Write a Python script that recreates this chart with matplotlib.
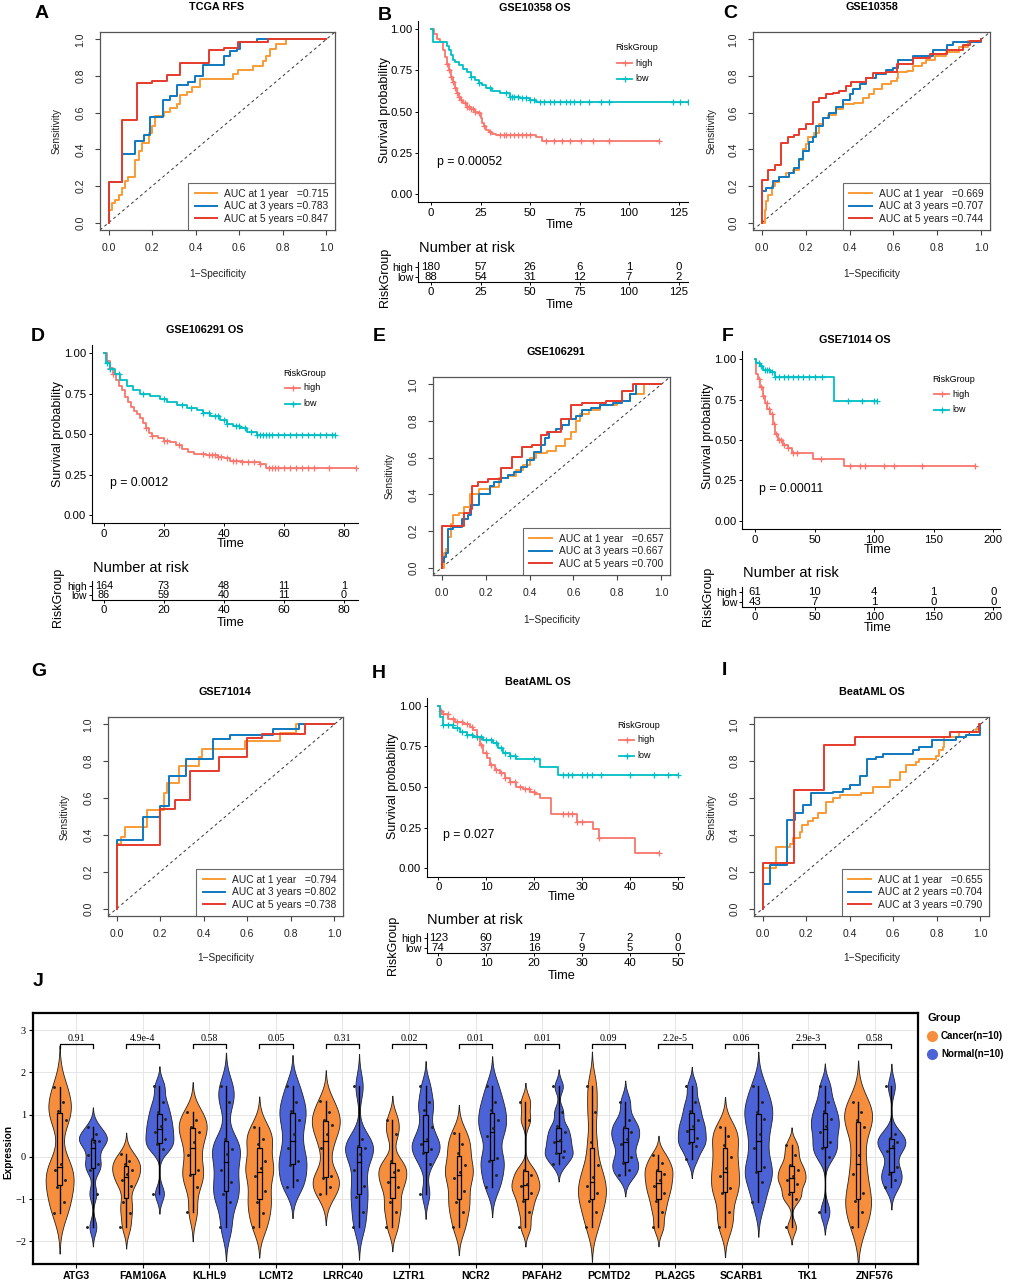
import numpy as np
import matplotlib
matplotlib.use("Agg")
import matplotlib.pyplot as plt
from matplotlib.lines import Line2D
from matplotlib.patches import Rectangle

SANS = ['Liberation Sans', 'DejaVu Sans']
SERIF = ['Liberation Serif', 'DejaVu Serif']
plt.rcParams['font.family'] = SANS

# ---------------- DATA ----------------
roc_colors = ['#F99B35', '#0F78BF', '#E63A2C']

# A: TCGA RFS
a_1y_fpr = [0,0,0.015,0.03,0.046,0.061,0.076,0.09,0.122,0.137,0.153,0.183,0.2,0.214,0.252,0.282,0.313,0.328,0.359,0.382,0.42,0.573,0.595,0.664,0.71,0.725,0.74,0.771,0.817,1.0]
a_1y_tpr = [0,0.07,0.105,0.125,0.15,0.19,0.225,0.25,0.34,0.39,0.435,0.49,0.525,0.58,0.605,0.625,0.65,0.695,0.715,0.74,0.785,0.81,0.835,0.855,0.88,0.91,0.945,0.975,1.0,1.0]
a_3y_fpr = [0,0,0.061,0.122,0.16,0.188,0.25,0.282,0.313,0.366,0.397,0.435,0.53,0.557,0.588,0.603,0.682,1.0]
a_3y_tpr = [0,0.22,0.375,0.445,0.48,0.575,0.67,0.69,0.75,0.765,0.80,0.86,0.91,0.935,0.95,0.985,1.0,1.0]
a_5y_fpr = [0,0,0.061,0.13,0.198,0.267,0.328,0.463,0.53,0.595,0.73,1.0]
a_5y_tpr = [0,0.22,0.56,0.76,0.775,0.805,0.87,0.94,0.955,0.985,1.0,1.0]
a_labels = ['AUC at 1 year   =0.715', 'AUC at 3 years =0.783', 'AUC at 5 years =0.847']

# C: GSE10358
c_1y_fpr = [0,0.015,0.02,0.03,0.046,0.06,0.08,0.11,0.14,0.17,0.19,0.2,0.21,0.24,0.26,0.28,0.3,0.34,0.37,0.42,0.46,0.49,0.51,0.55,0.59,0.615,0.62,0.66,0.69,0.73,0.75,0.79,0.84,0.9,0.94,1.0]
c_1y_tpr = [0,0.07,0.12,0.15,0.2,0.22,0.25,0.27,0.29,0.34,0.4,0.43,0.47,0.49,0.54,0.57,0.59,0.62,0.645,0.655,0.68,0.70,0.73,0.755,0.775,0.79,0.82,0.83,0.855,0.87,0.89,0.91,0.93,0.96,0.99,1.0]
c_3y_fpr = [0,0,0.018,0.049,0.08,0.125,0.148,0.171,0.19,0.217,0.232,0.247,0.278,0.308,0.339,0.37,0.40,0.415,0.446,0.476,0.522,0.568,0.598,0.62,0.69,0.782,0.843,0.873,1.0]
c_3y_tpr = [0,0.175,0.19,0.23,0.25,0.27,0.30,0.35,0.39,0.44,0.47,0.53,0.57,0.60,0.63,0.67,0.70,0.73,0.755,0.79,0.81,0.835,0.845,0.89,0.91,0.94,0.97,0.985,1.0]
c_5y_fpr = [0,0,0.03,0.061,0.087,0.118,0.148,0.171,0.2,0.232,0.263,0.293,0.324,0.354,0.385,0.408,0.476,0.507,0.568,0.614,0.69,0.766,0.843,0.919,0.95,1.0]
c_5y_tpr = [0,0.235,0.29,0.315,0.435,0.47,0.48,0.51,0.54,0.66,0.68,0.70,0.71,0.72,0.745,0.77,0.79,0.815,0.82,0.865,0.90,0.92,0.94,0.97,0.99,1.0]
c_labels = ['AUC at 1 year   =0.669', 'AUC at 3 years =0.707', 'AUC at 5 years =0.744']

# E: GSE106291
e_1y_fpr = [0,0.01,0.02,0.03,0.04,0.05,0.08,0.1,0.13,0.17,0.22,0.26,0.3,0.34,0.37,0.4,0.43,0.48,0.52,0.56,0.59,0.61,0.63,0.67,0.72,0.8,0.86,0.92,1.0]
e_1y_tpr = [0,0.08,0.1,0.17,0.24,0.285,0.3,0.33,0.4,0.43,0.44,0.49,0.5,0.535,0.56,0.6,0.625,0.635,0.665,0.7,0.74,0.8,0.84,0.86,0.885,0.91,0.95,1.0,1.0]
e_3y_fpr = [0,0,0.01,0.02,0.03,0.05,0.09,0.12,0.135,0.17,0.22,0.24,0.27,0.3,0.33,0.36,0.39,0.42,0.45,0.47,0.49,0.52,0.55,0.58,0.61,0.64,0.68,0.72,0.78,0.82,0.86,0.885,1.0]
e_3y_tpr = [0,0.03,0.06,0.08,0.21,0.22,0.265,0.29,0.34,0.40,0.445,0.47,0.49,0.505,0.52,0.55,0.585,0.63,0.67,0.705,0.74,0.755,0.78,0.81,0.825,0.86,0.87,0.89,0.90,0.91,0.945,1.0,1.0]
e_5y_fpr = [0,0,0.1,0.13,0.137,0.165,0.21,0.27,0.32,0.365,0.41,0.45,0.48,0.545,0.59,0.64,0.75,0.82,0.87,1.0]
e_5y_tpr = [0,0.23,0.30,0.32,0.445,0.47,0.485,0.545,0.605,0.66,0.67,0.725,0.74,0.81,0.885,0.90,0.91,0.965,1.0,1.0]
e_labels = ['AUC at 1 year   =0.657', 'AUC at 3 years =0.667', 'AUC at 5 years =0.700']

# G: GSE71014
g_1y_fpr = [0,0,0.018,0.037,0.14,0.217,0.232,0.285,0.377,0.392,0.59,0.751,0.823,1.0]
g_1y_tpr = [0,0.35,0.39,0.445,0.535,0.63,0.68,0.775,0.825,0.865,0.91,0.955,1.0,1.0]
g_3y_fpr = [0,0,0.122,0.2,0.24,0.32,0.443,0.522,0.72,0.84,1.0]
g_3y_tpr = [0,0.37,0.5,0.555,0.72,0.81,0.92,0.945,0.975,1.0,1.0]
g_5y_fpr = [0,0,0.2,0.27,0.336,0.47,0.6,0.667,0.866,1.0]
g_5y_tpr = [0,0.345,0.54,0.59,0.745,0.825,0.925,0.95,1.0,1.0]
g_labels = ['AUC at 1 year   =0.794', 'AUC at 3 years =0.802', 'AUC at 5 years =0.738']

# I: BeatAML OS
i_1y_fpr = [0,0,0.061,0.125,0.14,0.171,0.179,0.21,0.232,0.255,0.293,0.324,0.354,0.453,0.507,0.583,0.63,0.66,0.705,0.72,0.797,0.812,0.828,0.835,0.904,0.98,0.995,1.0]
i_1y_tpr = [0,0.22,0.335,0.35,0.385,0.415,0.455,0.475,0.49,0.52,0.58,0.6,0.615,0.63,0.66,0.7,0.74,0.78,0.795,0.81,0.83,0.86,0.875,0.93,0.96,0.975,1.0,1.0]
i_2y_fpr = [0,0,0.034,0.11,0.148,0.183,0.221,0.324,0.37,0.4,0.446,0.481,0.522,0.553,0.69,0.72,0.777,0.889,0.934,1.0,1.0]
i_2y_tpr = [0,0.135,0.235,0.48,0.52,0.56,0.625,0.635,0.65,0.67,0.72,0.81,0.825,0.84,0.86,0.875,0.915,0.93,0.945,0.955,1.0]
i_3y_fpr = [0,0,0.143,0.282,0.426,0.86,0.995,1.0]
i_3y_tpr = [0,0.245,0.645,0.89,0.93,0.96,1.0,1.0]
i_labels = ['AUC at 1 year   =0.655', 'AUC at 2 years =0.704', 'AUC at 3 years =0.790']

# Kaplan-Meier curves
km_colors = {'high': '#F8766D', 'low': '#00BFC4'}

b_high_t = [0,1.5,3,4.5,6,7,8,9,10,11,12,13,14,15,16,18,20,22,23.5,25,26,27,28,29.5,31,33,53,56,115]
b_high_s = [1,0.97,0.94,0.92,0.87,0.83,0.79,0.75,0.71,0.68,0.64,0.61,0.59,0.57,0.55,0.53,0.515,0.50,0.49,0.46,0.43,0.41,0.39,0.375,0.365,0.355,0.345,0.323,0.323]
b_high_cens = [8,9,10,11,12,13,14,15,17,18,19,20,21,22,24,27,30,35,37,38,40,42,44,46,48,50,58,62,66,70,76,82,90,115]
b_low_t = [0,1,8,9,10,11,12,14,16,18,20,22,24,26,28,31,35,40,45,50,53,55,130]
b_low_s = [1,0.92,0.90,0.87,0.84,0.81,0.80,0.78,0.76,0.74,0.71,0.69,0.67,0.66,0.645,0.625,0.61,0.59,0.58,0.57,0.56,0.555,0.555]
b_low_cens = [20,24,30,38,40,41,42,44,46,48,50,52,55,57,60,62,65,68,70,72,75,80,86,90,122,126,130]
b_risk_times = [0,25,50,75,100,125]
b_risk_high = [180,57,26,6,1,0]
b_risk_low = [88,54,31,12,7,2]

d_high_t = [0,1,2,3,4,5,6,7,8,9,10,11,12,13,14,15,16,18,20,22,24,26,28,30,34,38,40,42,46,52,54,84]
d_high_s = [1,0.95,0.91,0.87,0.835,0.80,0.77,0.73,0.70,0.67,0.645,0.625,0.60,0.57,0.54,0.51,0.49,0.475,0.46,0.45,0.435,0.41,0.39,0.375,0.37,0.36,0.35,0.335,0.325,0.315,0.29,0.29]
d_high_cens = [2,3,14,16,20,21,25,33,35,36,37,38,39,41,43,44,46,48,50,52,55,56,57,58,60,62,64,66,68,70,75,84]
d_low_t = [0,0.7,2,3.7,5.3,7.6,9.8,12,15.3,18.7,20.9,24.2,27.6,30.9,33,35.3,38.7,40.9,43,45.3,47.6,50.9,77]
d_low_s = [1,0.94,0.90,0.87,0.835,0.80,0.77,0.75,0.735,0.72,0.70,0.68,0.66,0.65,0.63,0.61,0.59,0.56,0.55,0.535,0.515,0.495,0.495]
d_low_cens = [1,2,5,13,20,26,29,33,35,37,38,40,41,44,45,47,49,51,52,53,54,55,56,58,60,62,64,66,68,70,72,74,76,77]
d_risk_times = [0,20,40,60,80]
d_risk_high = [164,73,48,11,1]
d_risk_low = [86,59,40,11,0]

f_high_t = [0,0.8,2.8,4.2,6.4,8.4,10.3,12.6,14.8,16.8,19.6,23.8,28,30.8,49,75,185]
f_high_s = [1,0.91,0.88,0.83,0.77,0.73,0.69,0.66,0.60,0.54,0.50,0.47,0.45,0.42,0.38,0.342,0.342]
f_high_cens = [3,5,7,10,12,14,16,18,20,22,24,28,32,35,55,80,88,92,108,117,140,185]
f_low_t = [0,0.8,4,7,12.6,17,66,102]
f_low_s = [1,0.975,0.955,0.93,0.92,0.89,0.742,0.742]
f_low_cens = [3,5,8,10,12,14,17,20,24,28,32,36,40,45,50,56,78,90,100,102]
f_risk_times = [0,50,100,150,200]
f_risk_high = [61,10,4,1,0]
f_risk_low = [43,7,1,0,0]

h_high_t = [0,0.35,1,2.1,3.5,5.2,6.6,7.3,8,8.7,9.4,10.1,10.8,11.8,12.9,13.9,15,16.3,17.7,19.1,20.2,21.2,23.5,29,32.3,33.5,41,46]
h_high_s = [1,0.97,0.95,0.92,0.90,0.89,0.87,0.85,0.81,0.76,0.71,0.68,0.635,0.605,0.585,0.555,0.53,0.50,0.49,0.47,0.46,0.43,0.334,0.287,0.24,0.184,0.096,0.096]
h_high_cens = [0.5,1,2,3,4,5,6,7,8,9,10,11,12,13,14,15,16,17,18,19,20,26,27,28,29,30,33.5,46]
h_low_t = [0,0.35,1,3.1,4.5,5.9,7.3,9.4,11.5,12.5,13.6,15,16.3,21.2,25,50]
h_low_s = [1,0.93,0.88,0.86,0.84,0.82,0.81,0.79,0.77,0.74,0.71,0.69,0.675,0.625,0.576,0.576]
h_low_cens = [1,2,3,4,5,6,7,8,9,10,11,12,13,14,15,16,20,26,27,28,30,31,32,34,40,45,48,50]
h_risk_times = [0,10,20,30,40,50]
h_risk_high = [123,60,19,7,2,0]
h_risk_low = [74,37,16,9,5,0]

# J: violin expression data
genes = ['ATG3','FAM106A','KLHL9','LCMT2','LRRC40','LZTR1','NCR2','PAFAH2','PCMTD2','PLA2G5','SCARB1','TK1','ZNF576']
pvals = ['0.91','4.9e-4','0.58','0.05','0.31','0.02','0.01','0.01','0.09','2.2e-5','0.06','2.9e-3','0.58']
cancer_expr = [
    [-1.32,-1.07,-0.72,-0.55,-0.3,-0.18,0.88,1.08,1.31,1.66],
    [-1.66,-1.32,-1.07,-0.68,-0.55,-0.4,-0.3,-0.18,-0.1,0.06],
    [-1.3,-0.72,-0.43,-0.3,0.05,0.35,0.6,0.7,0.88,1.07],
    [-1.67,-1.32,-1.07,-0.8,-0.45,-0.27,-0.1,0.3,0.43,0.71],
    [-0.88,-0.72,-0.5,-0.45,0.2,0.55,0.75,0.87,1.07,1.32],
    [-1.67,-1.3,-1.07,-0.72,-0.6,-0.35,-0.3,-0.1,0.55,0.88],
    [-1.67,-1.3,-1.07,-0.8,-0.5,-0.35,-0.2,0.1,0.3,0.57],
    [-1.67,-1.3,-1.05,-0.85,-0.7,-0.64,-0.43,-0.3,0.88,1.3],
    [-1.66,-1.3,-1.05,-0.85,-0.7,-0.48,-0.2,0.35,1.07,1.67],
    [-1.66,-1.3,-1.05,-0.85,-0.7,-0.56,-0.4,-0.3,-0.15,0.04],
    [-1.67,-1.3,-0.85,-0.75,-0.45,-0.27,0.0,0.28,0.5,0.71],
    [-1.67,-1.0,-0.88,-0.65,-0.55,-0.45,-0.3,-0.2,0.05,0.29],
    [-1.67,-1.3,-1.05,-0.85,-0.4,0.04,0.7,0.88,1.07,1.3],
]
normal_expr = [
    [-1.66,-0.87,-0.3,-0.18,0.05,0.35,0.38,0.42,0.55,0.71],
    [-0.87,0.18,0.3,0.42,0.6,0.72,0.9,1.07,1.3,1.67],
    [-1.67,-1.07,-0.87,-0.6,-0.3,0.06,0.18,0.43,1.3,1.67],
    [-0.71,-0.55,-0.2,-0.1,0.2,0.55,0.88,1.08,1.3,1.67],
    [-1.67,-1.3,-0.95,-0.7,-0.3,0.06,0.2,0.25,0.43,1.67],
    [-0.87,-0.18,0.1,0.18,0.3,0.43,0.7,1.1,1.3,1.67],
    [-0.71,-0.43,-0.1,-0.02,0.5,0.68,0.88,1.1,1.3,1.67],
    [-0.18,0.0,0.08,0.15,0.35,0.41,0.6,0.72,1.07,1.67],
    [-0.43,-0.3,-0.15,0.0,0.3,0.42,0.6,0.7,0.88,1.3],
    [-0.04,0.25,0.32,0.45,0.62,0.72,0.88,1.08,1.3,1.67],
    [-1.07,-0.6,-0.35,-0.25,0.2,0.55,0.9,1.07,1.3,1.67],
    [-1.3,0.0,0.2,0.35,0.6,0.74,0.9,1.08,1.3,1.67],
    [-0.71,-0.55,-0.4,-0.25,0.15,0.25,0.35,0.45,0.55,1.67],
]
group_labels = ['Cancer(n=10)', 'Normal(n=10)']
group_colors = ['#F78E3D', '#4C63D8']
jitter = [-0.09, 0.06, -0.04, 0.08, -0.07, 0.02, 0.09, -0.02, 0.05, -0.08]

# ---------------- FIGURE ----------------
W, H = 1010, 1282
fig = plt.figure(figsize=(W / 100, H / 100), dpi=100)


def axpx(x0, y0, x1, y1):
    return fig.add_axes([x0 / W, 1 - y1 / H, (x1 - x0) / W, (y1 - y0) / H])


def ftext(x, y, s, **kw):
    kw.setdefault('ha', 'center')
    kw.setdefault('va', 'center')
    return fig.text(x / W, 1 - y / H, s, **kw)


def letter(x, y, s):
    ftext(x, y, s, fontsize=14, fontweight='bold')


def roc_panel(box, title, title_xy, lab, lab_xy, ylab_x, xlab_y, curves, labels):
    ax = axpx(*box)
    ax.set_xlim(-0.04, 1.04)
    ax.set_ylim(-0.04, 1.04)
    ax.plot([-0.04, 1.04], [-0.04, 1.04], ls=(0, (3, 3)), color='#333333', lw=0.7)
    handles = []
    for (f, t), c, l in zip(curves, roc_colors, labels):
        h, = ax.plot(f, t, drawstyle='steps-post', color=c, lw=1.4, label=l)
        handles.append(h)
    ticks = [0, 0.2, 0.4, 0.6, 0.8, 1.0]
    tl = ['0.0', '0.2', '0.4', '0.6', '0.8', '1.0']
    ax.set_xticks(ticks)
    ax.set_xticklabels(tl, fontsize=7.5)
    ax.set_yticks(ticks)
    ax.set_yticklabels(tl, fontsize=7.5, rotation=90, va='center')
    ax.tick_params(axis='x', direction='out', length=3.5, width=0.8, pad=6, colors='#444444', labelcolor='#222222')
    ax.tick_params(axis='y', direction='out', length=3.5, width=0.8, pad=7, colors='#444444', labelcolor='#222222')
    for sp in ax.spines.values():
        sp.set_color('#555555')
        sp.set_linewidth(0.9)
    leg = ax.legend(handles=handles, loc='lower right', fontsize=7.4, frameon=True, fancybox=False,
                    borderaxespad=0, handlelength=2.2, handletextpad=0.7, borderpad=0.6,
                    labelspacing=0.25)
    leg.get_frame().set_edgecolor('#444444')
    leg.get_frame().set_linewidth(0.8)
    for txt in leg.get_texts():
        txt.set_color('#222222')
    ftext(title_xy[0], title_xy[1], title, fontsize=7.8, fontweight='bold')
    letter(lab_xy[0], lab_xy[1], lab)
    ycen = (box[1] + box[3]) / 2
    xcen = (box[0] + box[2]) / 2
    ftext(ylab_x, ycen, 'Sensitivity', fontsize=7.3, rotation=90, color='#222222')
    ftext(xcen, xlab_y, '1\u2212Specificity', fontsize=7.3, color='#222222')
    return ax


def step_at(t, s, c):
    t = np.asarray(t)
    s = np.asarray(s)
    idx = np.searchsorted(t, np.asarray(c), side='right') - 1
    idx = np.clip(idx, 0, len(s) - 1)
    return s[idx]


def km_panel(x0px, scale, xlim, ytop, ybot, xticks, high, low, risk_high, risk_low, risk_rows,
             title, title_xy, lab, lab_xy, pval, pval_xy, leg_xy, nar_xy, ylab_x, ylab_y,
             rg_y, time_y, risk_tick_y, risk_time_y):
    bx0 = x0px + xlim[0] * scale
    bx1 = x0px + xlim[1] * scale
    ax = axpx(bx0, ytop, bx1, ybot)
    ax.set_xlim(*xlim)
    ax.set_ylim(-0.05, 1.05)
    for (t, s, cens), col in ((high, km_colors['high']), (low, km_colors['low'])):
        ax.step(t, s, where='post', color=col, lw=1.3)
        ax.plot(cens, step_at(t, s, cens), ls='none', marker='+', ms=4.5, mew=0.9, color=col)
    ax.set_yticks([0, 0.25, 0.5, 0.75, 1.0])
    ax.set_yticklabels(['0.00', '0.25', '0.50', '0.75', '1.00'], fontsize=8.2)
    ax.set_xticks(xticks)
    ax.set_xticklabels([str(v) for v in xticks], fontsize=8.2)
    for k in ('top', 'right'):
        ax.spines[k].set_visible(False)
    for k in ('left', 'bottom'):
        ax.spines[k].set_linewidth(0.8)
        ax.spines[k].set_color('black')
    ax.tick_params(direction='out', length=2.5, width=0.7, pad=1.5, colors='black')
    ftext(ylab_x, ylab_y, 'Survival probability', fontsize=9, rotation=90)
    ftext((bx0 + bx1) / 2 + 6, time_y, 'Time', fontsize=9.2)
    ftext(title_xy[0], title_xy[1], title, fontsize=7.8, fontweight='bold')
    letter(lab_xy[0], lab_xy[1], lab)
    ftext(pval_xy[0], pval_xy[1], pval, fontsize=8.8, ha='left')
    # legend
    lx, ly = leg_xy
    ftext(lx, ly, 'RiskGroup', fontsize=6.5, ha='left')
    for k, (name, col) in enumerate((('high', km_colors['high']), ('low', km_colors['low']))):
        yy = ly + 15 + 15.5 * k
        fig.add_artist(Line2D([(lx + 2) / W, (lx + 17) / W], [1 - yy / H, 1 - yy / H],
                              transform=fig.transFigure, color=col, lw=1.3))
        fig.add_artist(Line2D([(lx + 9.5) / W], [1 - yy / H], transform=fig.transFigure,
                              ls='none', marker='+', ms=4.5, mew=0.9, color=col))
        ftext(lx + 20, yy, name, fontsize=6.5, ha='left')
    # risk table
    r_high, r_low = risk_rows
    sp = r_low - r_high
    rax = axpx(bx0, r_high - sp / 2, bx1, r_low + sp / 2)
    rax.set_xlim(*xlim)
    rax.set_ylim(-0.5, 1.5)
    num_fs = min(8.2, sp * 0.82)
    for tt, n in zip(xticks, risk_high):
        rax.text(tt, 1, str(n), ha='center', va='center', fontsize=num_fs)
    for tt, n in zip(xticks, risk_low):
        rax.text(tt, 0, str(n), ha='center', va='center', fontsize=num_fs)
    rax.set_yticks([0, 1])
    rax.set_yticklabels(['low', 'high'], fontsize=min(8.4, sp * 0.78))
    rax.get_yticklabels()[0].set_color(km_colors['low'])
    rax.get_yticklabels()[1].set_color(km_colors['high'])
    rax.set_xticks(xticks)
    rax.set_xticklabels([str(v) for v in xticks], fontsize=8.2)
    for k in ('top', 'right'):
        rax.spines[k].set_visible(False)
    for k in ('left', 'bottom'):
        rax.spines[k].set_linewidth(0.8)
    rax.tick_params(direction='out', length=2.5, width=0.7, pad=1.0, colors='black')
    rax.patch.set_alpha(0)
    ftext(nar_xy[0], nar_xy[1], 'Number at risk', fontsize=10.5, ha='left')
    ftext(ylab_x, rg_y, 'RiskGroup', fontsize=9, rotation=90)
    ftext((bx0 + bx1) / 2 + 6, risk_time_y, 'Time', fontsize=9.2)
    return ax


# ---- ROC panels ----
roc_panel((100, 32, 335, 230), 'TCGA RFS', (217, 7), 'A', (42, 13), 57, 274,
          [(a_1y_fpr, a_1y_tpr), (a_3y_fpr, a_3y_tpr), (a_5y_fpr, a_5y_tpr)], a_labels)
roc_panel((753, 32, 990, 230), 'GSE10358', (872, 7), 'C', (730, 13), 712, 274,
          [(c_1y_fpr, c_1y_tpr), (c_3y_fpr, c_3y_tpr), (c_5y_fpr, c_5y_tpr)], c_labels)
roc_panel((433, 377, 670, 575), 'GSE106291', (556, 352), 'E', (379, 337), 390, 620,
          [(e_1y_fpr, e_1y_tpr), (e_3y_fpr, e_3y_tpr), (e_5y_fpr, e_5y_tpr)], e_labels)
roc_panel((108, 717, 343, 916), 'GSE71014', (225, 692), 'G', (39, 672), 65, 958,
          [(g_1y_fpr, g_1y_tpr), (g_3y_fpr, g_3y_tpr), (g_5y_fpr, g_5y_tpr)], g_labels)
roc_panel((754, 717, 989, 916), 'BeatAML OS', (872, 692), 'I', (724, 670), 712, 958,
          [(i_1y_fpr, i_1y_tpr), (i_2y_fpr, i_2y_tpr), (i_3y_fpr, i_3y_tpr)], i_labels)

# ---- KM panels ----
km_panel(431, 1.98, (-6.5, 130), 20.75, 202.25, b_risk_times,
         (b_high_t, b_high_s, b_high_cens), (b_low_t, b_low_s, b_low_cens),
         b_risk_high, b_risk_low, (266.7, 276.7),
         'GSE10358 OS', (535, 8), 'B', (385, 15), 'p = 0.00052', (437, 162), (615, 48),
         (419, 248), 385, 110, 277, 225, 292, 305)
km_panel(104, 3.0, (-4.1, 84.5), 345.2, 523.1, d_risk_times,
         (d_high_t, d_high_s, d_high_cens), (d_low_t, d_low_s, d_low_cens),
         d_risk_high, d_risk_low, (585.7, 595.3),
         'GSE106291 OS', (205, 330), 'D', (38, 337), 'p = 0.0012', (110, 483), (283, 373),
         (93, 568), 58, 434, 597, 544, 610, 623)
km_panel(755, 1.1917, (-10.6, 206), 351, 529, f_risk_times,
         (f_high_t, f_high_s, f_high_cens), (f_low_t, f_low_s, f_low_cens),
         f_risk_high, f_risk_low, (591.7, 601.7),
         'GSE71014 OS', (855, 340), 'F', (728, 337), 'p = 0.00011', (759, 489), (932, 379),
         (743, 573), 708, 436, 596, 550, 615, 628)
km_panel(438.3, 4.79, (-2.4, 51.3), 697.5, 876.5, h_risk_times,
         (h_high_t, h_high_s, h_high_cens), (h_low_t, h_low_s, h_low_cens),
         h_risk_high, h_risk_low, (937.8, 947.8),
         'BeatAML OS', (538, 682), 'H', (379, 673), 'p = 0.027', (443, 835), (617, 725),
         (427, 920), 393, 786, 945, 897, 963, 976)

# ---- J: violin panel ----
axJ = axpx(33, 1013, 918, 1264)
axJ.set_xlim(0.35, 13.65)
axJ.set_ylim(-2.54, 3.41)
axJ.set_axisbelow(True)
axJ.grid(color='#E6E6E6', lw=0.7)


def bw_nrd0(x):
    x = np.asarray(x, float)
    sd = x.std(ddof=1)
    q75, q25 = np.percentile(x, [75, 25])
    lo = min(sd, (q75 - q25) / 1.34)
    if lo <= 0:
        lo = sd
    return 0.9 * lo * len(x) ** -0.2


ADJ = 0.62
HALFW = 0.21
for gi in range(len(genes)):
    for grp, (vals_all, off) in enumerate(((cancer_expr, -0.25), (normal_expr, 0.25))):
        vals = np.asarray(vals_all[gi], float)
        pos = gi + 1 + off
        col = group_colors[grp]
        bw = ADJ * bw_nrd0(vals)
        grid = np.linspace(vals.min() - 2.6 * bw, vals.max() + 2.6 * bw, 300)
        dens = np.exp(-0.5 * ((grid[:, None] - vals[None, :]) / bw) ** 2).sum(axis=1)
        w = dens / dens.max() * HALFW
        axJ.fill_betweenx(grid, pos - w, pos + w, facecolor=col, edgecolor='#222222', lw=0.6, zorder=2)
        q1, med, q3 = np.percentile(vals, [25, 50, 75])
        axJ.plot([pos, pos], [vals.min(), q1], color='black', lw=1.0, zorder=3)
        axJ.plot([pos, pos], [q3, vals.max()], color='black', lw=1.0, zorder=3)
        axJ.add_patch(Rectangle((pos - 0.035, q1), 0.07, q3 - q1, facecolor=col, edgecolor='black', lw=0.9, zorder=3))
        axJ.plot([pos - 0.035, pos + 0.035], [med, med], color='black', lw=0.9, zorder=4)
        axJ.plot(pos + np.asarray(jitter), vals, ls='none', marker='o', ms=1.1, color='#222222', zorder=5)
    xc = gi + 1
    axJ.plot([xc - 0.25, xc - 0.25, xc + 0.25, xc + 0.25], [2.58, 2.68, 2.68, 2.58], color='black', lw=0.9, zorder=3)
    axJ.text(xc, 2.69, pvals[gi], ha='center', va='bottom', fontsize=7.2, family=SERIF, zorder=4)

axJ.set_xticks(range(1, len(genes) + 1))
axJ.set_xticklabels(genes, fontsize=7.6, fontweight='bold')
axJ.set_yticks([-2, -1, 0, 1, 2, 3])
axJ.set_yticklabels(['\u22122', '\u22121', '0', '1', '2', '3'], fontsize=7.5, family=SERIF)
for sp in axJ.spines.values():
    sp.set_linewidth(1.6)
    sp.set_color('black')
axJ.tick_params(direction='out', length=3, width=0.8, pad=2, colors='black')
ftext(8, 1152, 'Expression', fontsize=7.2, fontweight='bold', rotation=90)
letter(38, 981, 'J')

# legend J
ftext(927, 1018, 'Group', fontsize=8, fontweight='bold', ha='left')
for k, (lab, col) in enumerate(zip(group_labels, group_colors)):
    yy = 1036 + 18 * k
    fig.add_artist(Line2D([932 / W], [1 - yy / H], transform=fig.transFigure, ls='none',
                          marker='o', ms=7, color=col))
    ftext(941, yy, lab, fontsize=7, fontweight='bold', ha='left')

fig.savefig('out.png', dpi=100)
